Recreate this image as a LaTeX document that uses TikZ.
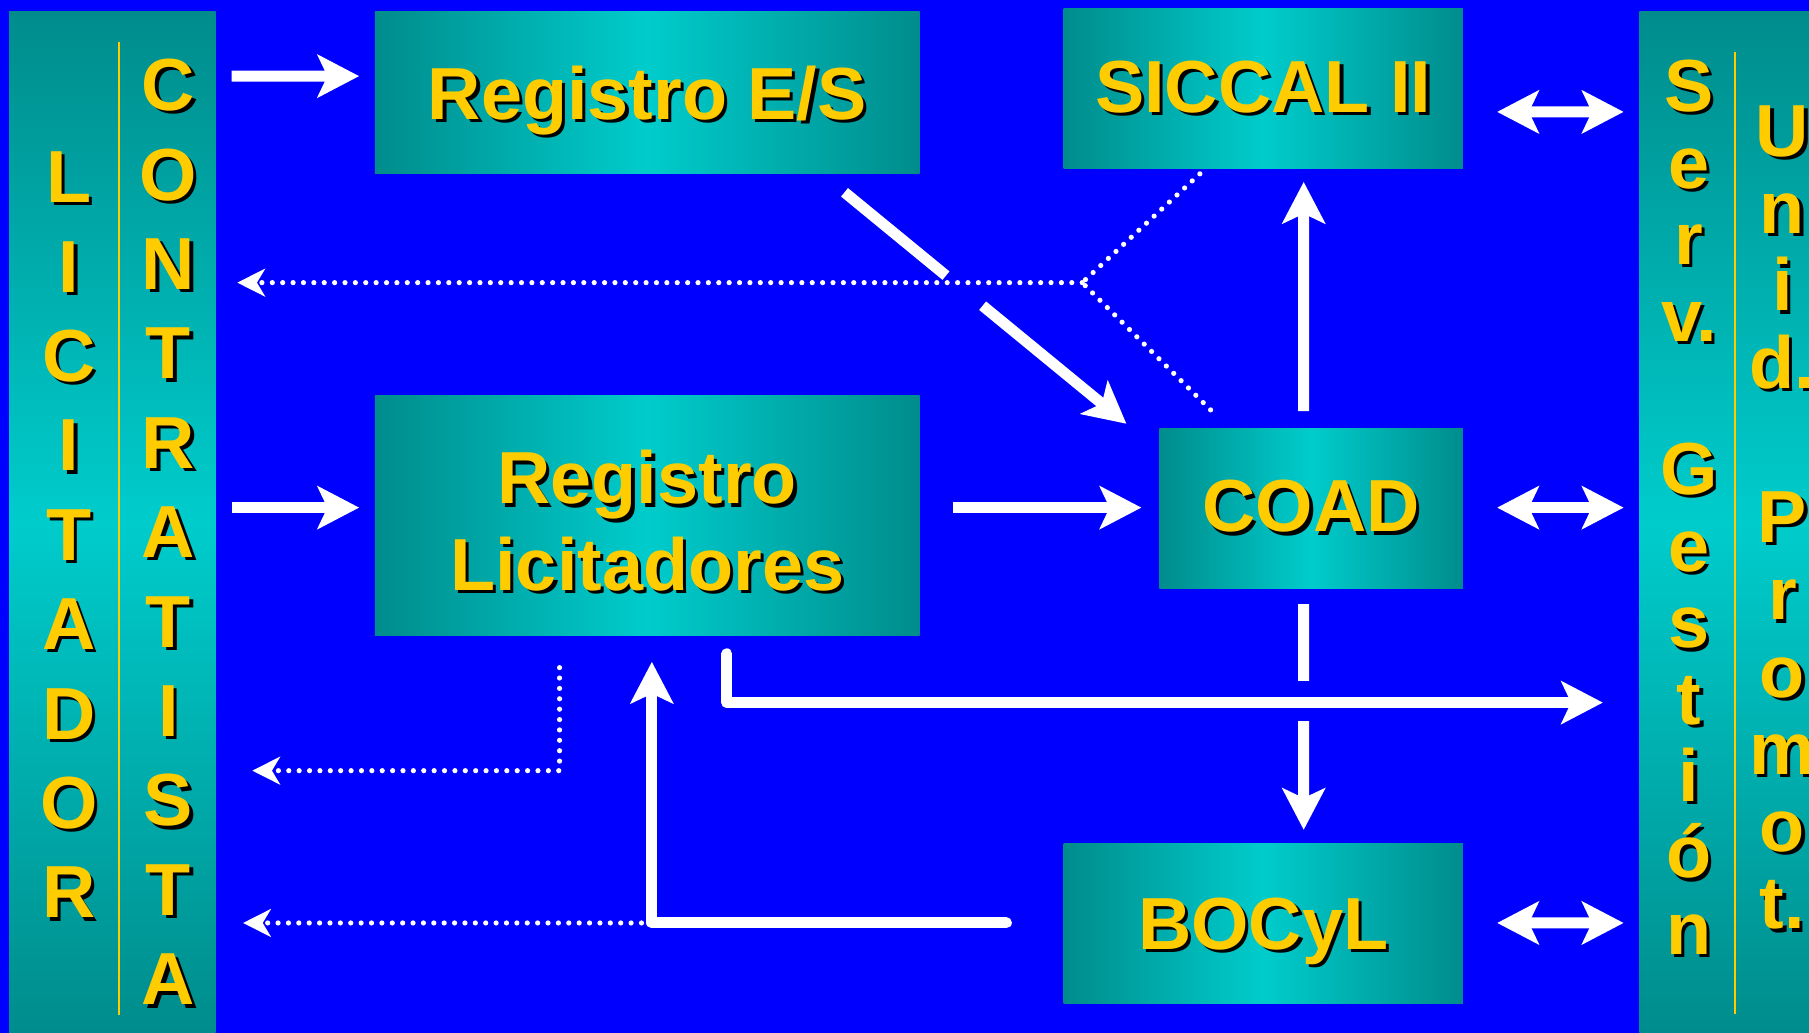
\documentclass[tikz,border=0pt]{standalone}
\usepackage{fontspec}
\setmainfont{Liberation Sans}
\usepackage{tikz}
\usetikzlibrary{positioning,arrows.meta,calc}

\definecolor{bgblue}{RGB}{0,0,255}
\definecolor{tealdk}{RGB}{0,140,140}
\definecolor{teallt}{RGB}{0,204,204}
\definecolor{txtyellow}{RGB}{255,204,0}

\newcommand{\shd}[1]{\makebox[0pt][l]{\hspace{0.8pt}\raisebox{-0.8pt}{\textcolor{black}{#1}}}#1}

\begin{document}
\begin{tikzpicture}[
    boxtext/.style={font=\fontsize{18.2}{21.3}\selectfont\bfseries, text=txtyellow},
    hbox/.style={boxtext, inner sep=0, align=center, left color=tealdk, right color=tealdk, middle color=teallt},
    vbar/.style={inner sep=0, minimum width=1.79cm, minimum height=8.846cm, top color=tealdk, bottom color=tealdk, middle color=teallt},
    column/.style={text=txtyellow, align=center, inner sep=0},
    sepline/.style={draw=txtyellow, line width=0.02cm},
    flowline/.style={draw=white, line width=0.095cm},
    flow/.style={flowline, -{Stealth[length=0.36cm, width=0.37cm, inset=0.085cm]}},
    flowboth/.style={flowline, {Stealth[length=0.36cm, width=0.37cm, inset=0.085cm]}-{Stealth[length=0.36cm, width=0.37cm, inset=0.085cm]}},
    dotline/.style={draw=white, line width=0.045cm, line cap=round, dash pattern=on 0pt off 0.09cm},
    dotflow/.style={dotline, -{Stealth[length=0.24cm, width=0.24cm, inset=0.07cm]}},
]

    \useasboundingbox (0,0) rectangle (15.68,8.95);
    \path[fill=bgblue] (0,0) rectangle (15.68,8.95);

    % side bars
    \node[vbar] (lic) at (0.975,4.423) {};
    \node[vbar] (ser) at (15.105,4.423) {};
    \path[sepline] (1.03,8.59) -- (1.03,0.15);
    \path[sepline] (15.04,8.50) -- (15.04,0.16);

    \node[column, font=\fontsize{18.2}{22.05}\selectfont\bfseries] (licword) at (0.60,4.30)
        {\shd{L}\\\shd{I}\\\shd{C}\\\shd{I}\\\shd{T}\\\shd{A}\\\shd{D}\\\shd{O}\\\shd{R}};
    \node[column, font=\fontsize{18.2}{22.05}\selectfont\bfseries] (conword) at (1.46,4.325)
        {\shd{C}\\\shd{O}\\\shd{N}\\\shd{T}\\\shd{R}\\\shd{A}\\\shd{T}\\\shd{I}\\\shd{S}\\\shd{T}\\\shd{A}};
    \node[column, font=\fontsize{18.2}{18.9}\selectfont\bfseries] (servword) at (14.64,4.54)
        {\shd{S}\\\shd{e}\\\shd{r}\\\shd{v.}\\ ~\\\shd{G}\\\shd{e}\\\shd{s}\\\shd{t}\\\shd{i}\\\shd{ó}\\\shd{n}};
    \node[column, font=\fontsize{18.2}{19.05}\selectfont\bfseries] (unidword) at (15.45,4.45)
        {\shd{U}\\\shd{n}\\\shd{i}\\\shd{d.}\\ ~\\\shd{P}\\\shd{r}\\\shd{o}\\\shd{m}\\\shd{o}\\\shd{t.}};

    % boxes
    \node[hbox, text depth=0pt, minimum width=4.72cm, minimum height=1.40cm] (regES) at (5.61,8.15) {\shd{Registro E/S}};
    \node[hbox, minimum width=3.46cm, minimum height=1.39cm] (siccal) at (10.95,8.185) {\shd{SICCAL II}};
    \node[hbox, minimum width=4.72cm, minimum height=2.08cm] (reglic) at (5.61,4.48) {\shd{Registro}\rule{0pt}{0.58cm}\\\shd{Licitadores}};
    \node[hbox, minimum width=2.63cm, minimum height=1.39cm] (coad) at (11.365,4.545) {\shd{COAD}};
    \node[hbox, text depth=0pt, minimum width=3.46cm, minimum height=1.39cm] (bocyl) at (10.95,0.945) {\shd{BOCyL}};

    \coordinate (dotjoin) at (9.38,6.50);
    \coordinate (esout) at ([shift={(1.71,-0.16)}]regES.south);
    \coordinate (coadin) at ([shift={(-0.28,0.03)}]coad.north west);
    \coordinate (coadout) at ([shift={(-0.065,-0.13)}]coad.south);
    \coordinate (bocin) at ([shift={(0.35,0.11)}]bocyl.north);

    \path[flow] ([xshift=0.13cm,yshift=0.14cm]lic.east |- regES.west) -- ([shift={(-0.13,0.14)}]regES.west);
    \path[flow] ([xshift=0.13cm,yshift=0.07cm]lic.east |- reglic.west) -- ([shift={(-0.13,0.07)}]reglic.west);

    \path[dotline] ([shift={(-0.55,-0.04)}]siccal.south) -- (dotjoin);
    \path[dotline] ([shift={(0.45,0.15)}]coad.north west) -- (dotjoin);
    \path[dotflow] (dotjoin) -- ([xshift=0.18cm]lic.east |- dotjoin);

    \path[flowline] (esout) -- ($(esout)!0.36!(coadin)$);
    \path[flow] ($(esout)!0.49!(coadin)$) -- (coadin);

    \path[flow] ([shift={(0.28,0.07)}]reglic.east) -- ([shift={(-0.15,0.005)}]coad.west);
    \path[flow] ([shift={(-0.065,0.14)}]coad.north) -- ([shift={(0.35,-0.11)}]siccal.south);

    \path[flowline] (coadout) -- ($(coadout)!0.34!(bocin)$);
    \path[flow] ($(coadout)!0.518!(bocin)$) -- (bocin);

    \path[flow, line cap=round, line join=round] ([shift={(0.69,-0.15)}]reglic.south) |- ([shift={(-0.31,-1.563)}]ser.west);
    \path[dotflow] ([shift={(-0.76,-0.27)}]reglic.south) |- ([shift={(0.31,-2.153)}]lic.east);
    \path[flow, line cap=round, line join=round] ([shift={(-0.49,0.005)}]bocyl.west) -| coordinate[pos=0.5] (boccorner) ([shift={(0.04,-0.22)}]reglic.south);
    \path[dotflow] (boccorner) -- ([xshift=0.23cm]lic.east |- boccorner);

    \path[flowboth] ([shift={(0.29,-0.205)}]siccal.east) -- ([shift={(-0.13,3.557)}]ser.west);
    \path[flowboth] ([shift={(0.29,0.005)}]coad.east) -- ([shift={(-0.13,0.127)}]ser.west);
    \path[flowboth] ([shift={(0.29,0.005)}]bocyl.east) -- ([shift={(-0.13,-3.473)}]ser.west);

\end{tikzpicture}
\end{document}
